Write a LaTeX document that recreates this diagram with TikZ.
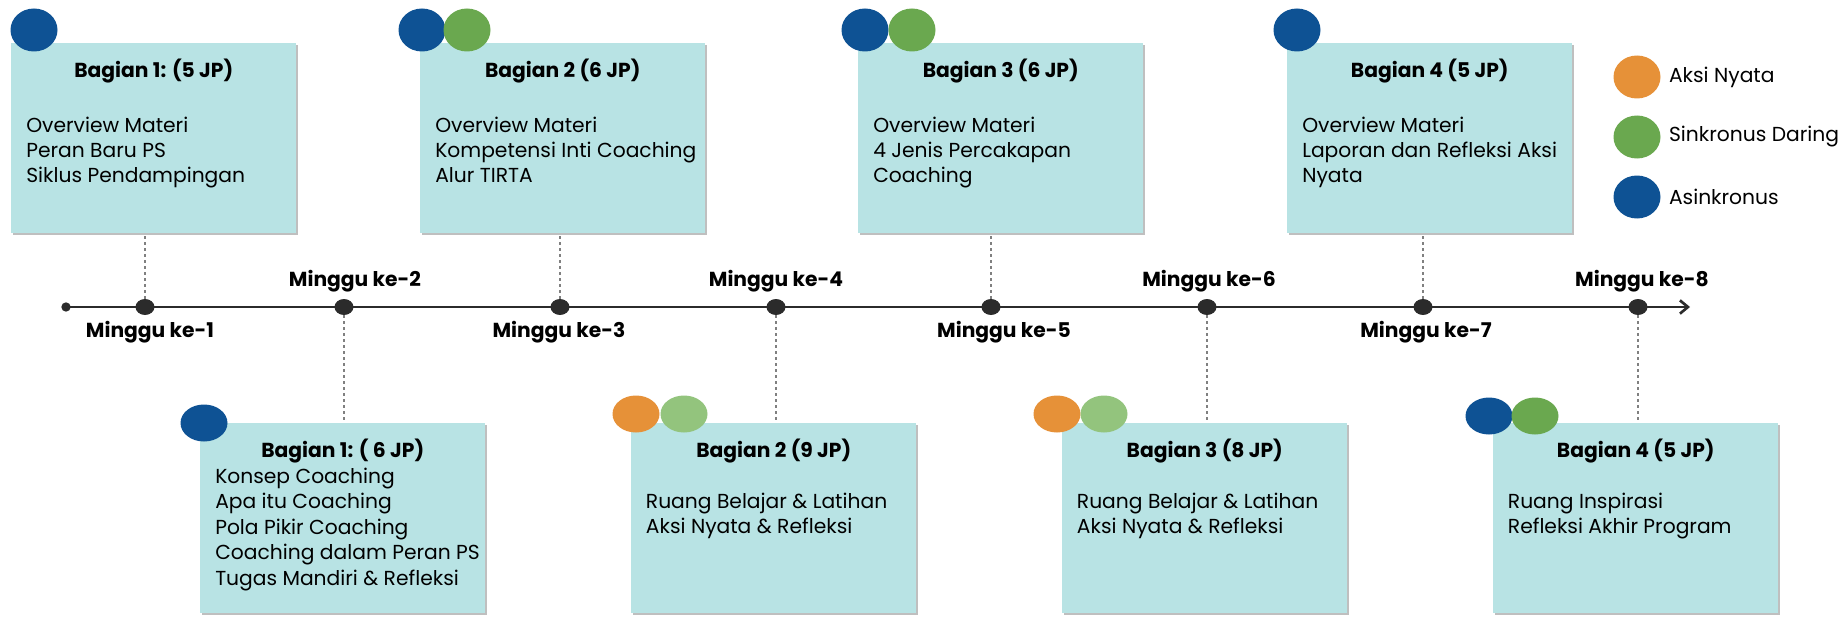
\documentclass[tikz,border=0pt]{standalone}
\usepackage{fontspec}
\setmainfont{Poppins}
\usepackage{xcolor}
\usetikzlibrary{
    arrows.meta,
    positioning,
    shapes.geometric,
    shadows
}

\definecolor{kotak}{HTML}{B8E3E4}
\definecolor{biru}{HTML}{0E5294}
\definecolor{hijau}{HTML}{6AA84F}
\definecolor{hijaumuda}{HTML}{93C47D}
\definecolor{oranye}{HTML}{E69138}
\definecolor{gelap}{HTML}{2B2B2B}

\begin{document}
\begin{tikzpicture}[
    x=0.75pt, y=-0.75pt,
    sesi/.style={
        rectangle,
        fill=kotak,
        anchor=north west,
        inner sep=0pt,
        minimum width=213.75pt,
        minimum height=142.5pt,
        drop shadow={shadow xshift=1.5pt, shadow yshift=-1.5pt, fill=black, opacity=0.25}
    },
    judul/.style={font=\bfseries\fontsize{15.2}{18}\selectfont},
    isi/.style={anchor=north west, inner sep=0pt, align=left, font=\fontsize{15.2}{19.1}\selectfont},
    minggu/.style={font=\bfseries\fontsize{15.2}{18}\selectfont},
    titik/.style={ellipse, fill=gelap, inner sep=0pt, minimum width=14.25pt, minimum height=12pt},
    bulat/.style={ellipse, inner sep=0pt, minimum width=35.25pt, minimum height=32.25pt},
    bulatb/.style={bulat, minimum height=27.75pt},
    sambung/.style={draw=gray, line width=0.8pt, dash pattern=on 2.25pt off 2.25pt}
]

\useasboundingbox (0,0) rectangle (1843,617);

% Sesi atas
\node[sesi] (atas1) at (11,43) {};
\node[judul] (ja1) at ([yshift=-21pt]atas1.north) {Bagian 1: (5 JP)};
\node[isi] (ia1) at ([xshift=11.25pt, yshift=-55pt]atas1.north west) {Overview Materi\\Peran Baru PS\\Siklus Pendampingan};
\node[bulat, fill=biru] (ba1) at (34,30) {};

\node[sesi] (atas2) at (420,43) {};
\node[judul] (ja2) at ([yshift=-21pt]atas2.north) {Bagian 2 (6 JP)};
\node[isi] (ia2) at ([xshift=11.25pt, yshift=-55pt]atas2.north west) {Overview Materi\\Kompetensi Inti Coaching\\Alur TIRTA};
\node[bulat, fill=biru] (ba2) at (422,30) {};
\node[bulat, fill=hijau] (ha2) at (467,30) {};

\node[sesi] (atas3) at (858,43) {};
\node[judul] (ja3) at ([yshift=-21pt]atas3.north) {Bagian 3 (6 JP)};
\node[isi] (ia3) at ([xshift=11.25pt, yshift=-55pt]atas3.north west) {Overview Materi\\4 Jenis Percakapan\\Coaching};
\node[bulat, fill=biru] (ba3) at (865,30) {};
\node[bulat, fill=hijau] (ha3) at (912,30) {};

\node[sesi] (atas4) at (1287,43) {};
\node[judul] (ja4) at ([yshift=-21pt]atas4.north) {Bagian 4 (5 JP)};
\node[isi] (ia4) at ([xshift=11.25pt, yshift=-55pt]atas4.north west) {Overview Materi\\Laporan dan Refleksi Aksi\\Nyata};
\node[bulat, fill=biru] (ba4) at (1297,30) {};

% Sesi bawah
\node[sesi] (bawah1) at (200,423) {};
\node[judul] (jb1) at ([yshift=-21pt]bawah1.north) {Bagian 1: ( 6 JP)};
\node[isi] (ib1) at ([xshift=11.25pt, yshift=-33.5pt]bawah1.north west) {Konsep Coaching\\Apa itu Coaching\\Pola Pikir Coaching\\Coaching dalam Peran PS\\Tugas Mandiri \& Refleksi};
\node[bulatb, fill=biru] (bb1) at (204,423) {};

\node[sesi] (bawah2) at (631,423) {};
\node[judul] (jb2) at ([yshift=-21pt]bawah2.north) {Bagian 2 (9 JP)};
\node[isi] (ib2) at ([xshift=11pt, yshift=-52pt]bawah2.north west) {Ruang Belajar \& Latihan\\Aksi Nyata \& Refleksi};
\node[bulatb, fill=oranye] (ob2) at (636,414) {};
\node[bulatb, fill=hijaumuda] (hb2) at (684,414) {};

\node[sesi] (bawah3) at (1062,423) {};
\node[judul] (jb3) at ([yshift=-21pt]bawah3.north) {Bagian 3 (8 JP)};
\node[isi] (ib3) at ([xshift=11pt, yshift=-52pt]bawah3.north west) {Ruang Belajar \& Latihan\\Aksi Nyata \& Refleksi};
\node[bulatb, fill=oranye] (ob3) at (1057,414) {};
\node[bulatb, fill=hijaumuda] (hb3) at (1104,414) {};

\node[sesi] (bawah4) at (1493,423) {};
\node[judul] (jb4) at ([yshift=-21pt]bawah4.north) {Bagian 4 (5 JP)};
\node[isi] (ib4) at ([xshift=11pt, yshift=-52pt]bawah4.north west) {Ruang Inspirasi\\Refleksi Akhir Program};
\node[bulatb, fill=biru] (bb4) at (1489,416) {};
\node[bulatb, fill=hijau] (hb4) at (1535,416) {};

% Garis waktu
\node[ellipse, fill=gelap, inner sep=0pt, minimum size=7pt] (awal) at (66,307) {};
\coordinate (ujung) at (1690,307);
\draw[gelap, line width=2pt, -{Straight Barb[length=6pt, width=10pt]}] (awal.center) -- (ujung);

\foreach \i/\x in {1/145, 2/344, 3/560, 4/776, 5/991, 6/1207, 7/1423, 8/1638}
    \node[titik] (m\i) at (\x,307) {};

% Garis putus-putus
\draw[sambung] (m1) -- (m1 |- atas1.south);
\draw[sambung] (m3) -- (m3 |- atas2.south);
\draw[sambung] (m5) -- (m5 |- atas3.south);
\draw[sambung] (m7) -- (m7 |- atas4.south);
\draw[sambung] (m2) -- (m2 |- bawah1.north);
\draw[sambung] (m4) -- (m4 |- bawah2.north);
\draw[sambung] (m6) -- (m6 |- bawah3.north);
\draw[sambung] (m8) -- (m8 |- bawah4.north);

% Label minggu
\node[minggu] (lm1) at (150,332) {Minggu ke-1};
\node[minggu] (lm2) at (355,281) {Minggu ke-2};
\node[minggu] (lm3) at (559,332) {Minggu ke-3};
\node[minggu] (lm4) at (776,281) {Minggu ke-4};
\node[minggu] (lm5) at (1004,332) {Minggu ke-5};
\node[minggu] (lm6) at (1209,281) {Minggu ke-6};
\node[minggu] (lm7) at (1426,332) {Minggu ke-7};
\node[minggu] (lm8) at (1642,281) {Minggu ke-8};

% Keterangan
\node[bulat, fill=oranye] (k1) at (1637,77) {};
\node[isi, anchor=west, right=6pt of k1] (tk1) {Aksi Nyata};
\node[bulat, fill=hijau] (k2) at (1637,137) {};
\node[isi, anchor=west, right=6pt of k2] (tk2) {Sinkronus Daring};
\node[bulat, fill=biru] (k3) at (1637,197) {};
\node[isi, anchor=west, right=6pt of k3] (tk3) {Asinkronus};

\end{tikzpicture}
\end{document}
